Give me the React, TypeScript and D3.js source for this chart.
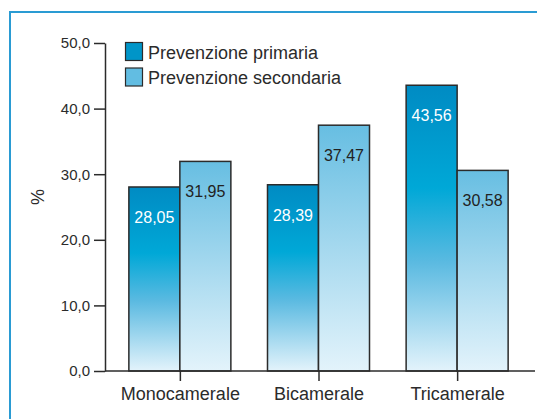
import { useMemo, useRef, useEffect } from "react";
import { scaleLinear, scalePoint, axisLeft, axisBottom, select } from "d3";

const categories = ["Monocamerale", "Bicamerale", "Tricamerale"];
const primaria = [28.05, 28.39, 43.56];
const secondaria = [31.95, 37.47, 30.58];
const yTicks = [0, 10, 20, 30, 40, 50];
const seriesNames = ["Prevenzione primaria", "Prevenzione secondaria"];

const WIDTH = 537;
const HEIGHT = 419;
const FONT = "'Liberation Sans', Arial, Helvetica, sans-serif";
const BAR_W = 51;

const fmt = (v: number) => v.toFixed(2).replace(".", ",");

export default function App() {
  const svgRef = useRef<SVGSVGElement>(null);

  const scales = useMemo(() => {
    const y = scaleLinear().domain([0, 50]).range([371, 43]);
    const x = scalePoint<string>().domain(categories).range([105, 532]).padding(0.54);
    return { x, y };
  }, []);

  useEffect(() => {
    if (!svgRef.current) return;
    const svg = select(svgRef.current);

    const yg = svg.select<SVGGElement>(".y-axis")
      .attr("transform", "translate(105,0)")
      .call(
        axisLeft(scales.y)
          .tickValues(yTicks)
          .tickSize(11)
          .tickSizeOuter(0)
          .tickPadding(4)
          .tickFormat((d) => (d as number).toFixed(1).replace(".", ","))
      );
    yg.attr("font-family", FONT).attr("font-size", 15);
    yg.selectAll("path, line").attr("stroke", "#2b2b2b").attr("stroke-width", 1.5);
    yg.selectAll("text").attr("fill", "#2b2b2b");

    const xg = svg.select<SVGGElement>(".x-axis")
      .attr("transform", "translate(0,371)")
      .call(axisBottom(scales.x).tickSize(10).tickSizeOuter(0).tickPadding(6));
    xg.attr("font-family", FONT).attr("font-size", 18);
    xg.select(".domain").remove();
    xg.selectAll("line").attr("stroke", "#2b2b2b").attr("stroke-width", 1.5);
    xg.selectAll("text").attr("fill", "#2b2b2b");
  }, [scales]);

  const { x, y } = scales;

  return (
    <svg
      ref={svgRef}
      width={WIDTH}
      height={HEIGHT}
      viewBox={`0 0 ${WIDTH} ${HEIGHT}`}
      style={{ position: "absolute", left: 0, top: 0, background: "#fff" }}
      fontFamily={FONT}
    >
      <defs>
        <linearGradient id="gradPrim" x1="0" y1="0" x2="0" y2="1">
          <stop offset="0" stopColor="#008bc3" />
          <stop offset="0.36" stopColor="#00a8d7" />
          <stop offset="0.62" stopColor="#5bbae1" />
          <stop offset="1" stopColor="#e3f3fb" />
        </linearGradient>
        <linearGradient id="gradSec" x1="0" y1="0" x2="0" y2="1">
          <stop offset="0" stopColor="#67bee2" />
          <stop offset="1" stopColor="#e3f3fb" />
        </linearGradient>
      </defs>

      {/* frame */}
      <rect x={10} y={12} width={WIDTH} height={HEIGHT} fill="none" stroke="#2a9bd3" strokeWidth={2} />

      {/* bars */}
      {categories.map((c, i) => {
        const cx = x(c)!;
        return (
          <g key={c}>
            <rect
              x={cx - BAR_W}
              y={y(primaria[i])}
              width={BAR_W}
              height={y(0) - y(primaria[i])}
              fill="url(#gradPrim)"
              stroke="#2b2b2b"
              strokeWidth={1.5}
            />
            <rect
              x={cx}
              y={y(secondaria[i])}
              width={BAR_W}
              height={y(0) - y(secondaria[i])}
              fill="url(#gradSec)"
              stroke="#2b2b2b"
              strokeWidth={1.5}
            />
            <text x={cx - BAR_W / 2} y={y(primaria[i]) + 36} textAnchor="middle" fontSize={16} fill="#fff">
              {fmt(primaria[i])}
            </text>
            <text x={cx + BAR_W / 2} y={y(secondaria[i]) + 36} textAnchor="middle" fontSize={16} fill="#222">
              {fmt(secondaria[i])}
            </text>
          </g>
        );
      })}

      {/* x baseline */}
      <line x1={105} x2={535} y1={y(0)} y2={y(0)} stroke="#2b2b2b" strokeWidth={1.5} />

      <g className="y-axis" />
      <g className="x-axis" />

      {/* y title */}
      <text
        transform="translate(38,197) rotate(-90)"
        textAnchor="middle"
        dominantBaseline="central"
        fontSize={18}
        fill="#2b2b2b"
      >
        %
      </text>

      {/* legend */}
      <rect x={125.5} y={42.5} width={17} height={18} fill="#0095c8" stroke="#2b2b2b" strokeWidth={1.2} />
      <text x={148} y={59} fontSize={18} fill="#2b2b2b">{seriesNames[0]}</text>
      <rect x={125.5} y={68} width={17} height={18} fill="#62bde2" stroke="#2b2b2b" strokeWidth={1.2} />
      <text x={148} y={84} fontSize={18} fill="#2b2b2b">{seriesNames[1]}</text>
    </svg>
  );
}
